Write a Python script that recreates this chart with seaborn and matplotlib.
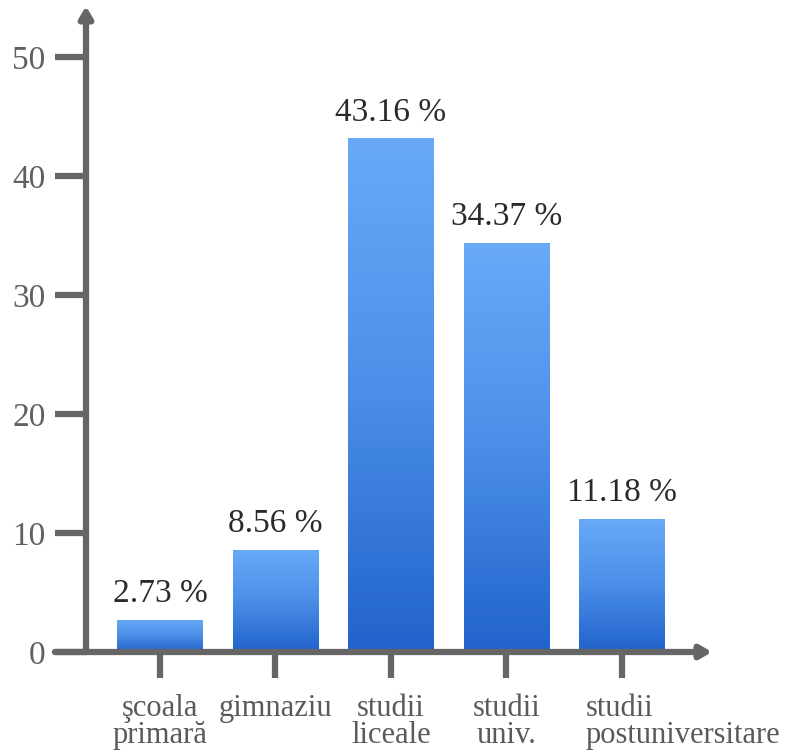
import numpy as np
import pandas as pd
import matplotlib
matplotlib.use("Agg")
import matplotlib.pyplot as plt
import matplotlib.transforms as mtransforms
from matplotlib.colors import LinearSegmentedColormap
import seaborn as sns

# Education level distribution (percent)
categories = ["şcoala\nprimară", "gimnaziu", "studii\nliceale", "studii\nuniv.", "studii\npostuniversitare"]
values = [2.73, 8.56, 43.16, 34.37, 11.18]
yticks = [0, 10, 20, 30, 40, 50]

df = pd.DataFrame({"nivel": categories, "procent": values})

sns.set_theme(style="white")
plt.rcParams["font.family"] = ["Liberation Serif", "DejaVu Serif"]

W, H = 785, 751
fig = plt.figure(figsize=(W / 100, H / 100), dpi=100)

# axes box in pixels: x from 86 to 712, y from 652 (zero) up to 6
x0_px, x1_px = 86, 712
y0_px, y1_px = 652, 6
ax = fig.add_axes([x0_px / W, 1 - y0_px / H, (x1_px - x0_px) / W, (y0_px - y1_px) / H])

xmin, xmax = -0.64, 4.78
ymin = 0
ymax = (y0_px - y1_px) / 11.9

sns.barplot(data=df, x="nivel", y="procent", ax=ax, width=0.74,
            color="#3f86e6", edgecolor="none", saturation=1)
ax.set_xlim(xmin, xmax)
ax.set_ylim(ymin, ymax)

# vertical gradient fill inside each bar
cmap = LinearSegmentedColormap.from_list("barblue", ["#2163cb", "#4a8ee8", "#68aaf8"])
grad = np.linspace(0, 1, 256).reshape(-1, 1)
for patch in ax.patches:
    bx, by = patch.get_x(), patch.get_y()
    bw, bh = patch.get_width(), patch.get_height()
    im = ax.imshow(grad, cmap=cmap, origin="lower", aspect="auto",
                   extent=[bx, bx + bw, by, by + bh], zorder=2)
    im.set_clip_path(patch)
    patch.set_facecolor("none")
    ax.text(bx + bw / 2, by + bh + 0.9, f"{bh:.2f} %", ha="center", va="bottom",
            fontsize=24, color="#2a2a2a", zorder=4)

axis_col = "#666666"
for s in ax.spines.values():
    s.set_visible(False)

# axis lines with arrow heads
arrow = "-|>,head_length=0.55,head_width=0.32"
ax.annotate("", xy=(xmax, 0), xytext=(xmin - 0.27, 0), xycoords="data",
            arrowprops=dict(arrowstyle=arrow, lw=4.5, color=axis_col,
                            shrinkA=0, shrinkB=0),
            annotation_clip=False, zorder=5)
ax.annotate("", xy=(xmin, ymax), xytext=(xmin, 0), xycoords="data",
            arrowprops=dict(arrowstyle=arrow, lw=4.5, color=axis_col,
                            shrinkA=0, shrinkB=0),
            annotation_clip=False, zorder=5)

ax.set_yticks(yticks)
ax.set_yticklabels([str(t) for t in yticks])
ax.tick_params(axis="y", length=22, width=4.5, color=axis_col, labelcolor="#606060",
               labelsize=24, pad=7, left=True, direction="out")
ax.tick_params(axis="x", length=19, width=4.5, color=axis_col, labelcolor="#5a5a5a",
               labelsize=22, pad=11, bottom=True, direction="out")
for t in ax.yaxis.get_ticklines() + ax.xaxis.get_ticklines():
    t.set_solid_capstyle("round")
for lbl in ax.get_xticklabels():
    lbl.set_linespacing(0.92)
    if "postuniversitare" in lbl.get_text():
        lbl.set_horizontalalignment("left")
        lbl.set_multialignment("left")
        lbl.set_transform(lbl.get_transform() +
                          mtransforms.ScaledTranslation(-36 / 100, 0, fig.dpi_scale_trans))
    else:
        lbl.set_horizontalalignment("center")
ax.set_xlabel("")
ax.set_ylabel("")

fig.savefig("out.png", dpi=100, facecolor="white")
